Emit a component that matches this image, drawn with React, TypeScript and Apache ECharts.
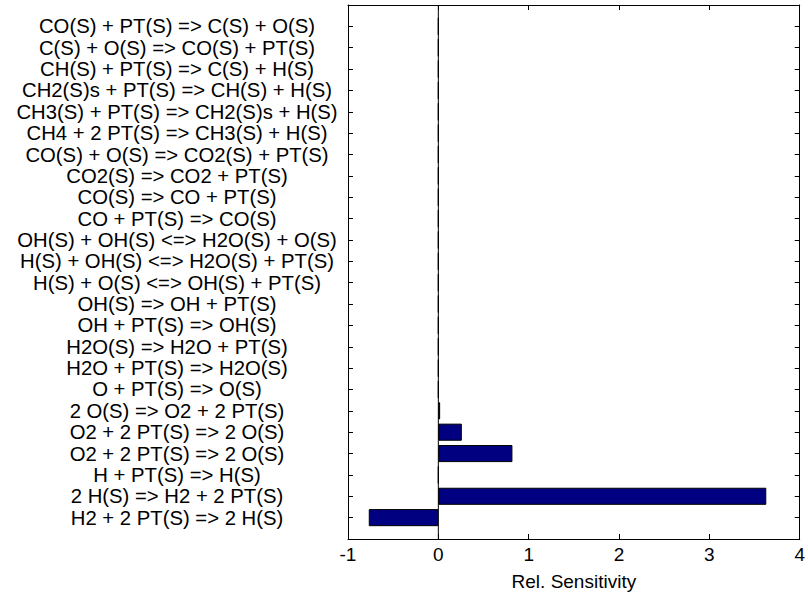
import React, { useEffect, useRef } from "react";
import * as echarts from "echarts";

// Reactions listed from top to bottom as in the chart
const reactions = [
  "CO(S) + PT(S) => C(S) + O(S)",
  "C(S) + O(S) => CO(S) + PT(S)",
  "CH(S) + PT(S) => C(S) + H(S)",
  "CH2(S)s + PT(S) => CH(S) + H(S)",
  "CH3(S) + PT(S) => CH2(S)s + H(S)",
  "CH4 + 2 PT(S) => CH3(S) + H(S)",
  "CO(S) + O(S) => CO2(S) + PT(S)",
  "CO2(S) => CO2 + PT(S)",
  "CO(S) => CO + PT(S)",
  "CO + PT(S) => CO(S)",
  "OH(S) + OH(S) <=> H2O(S) + O(S)",
  "H(S) + OH(S) <=> H2O(S) + PT(S)",
  "H(S) + O(S) <=> OH(S) + PT(S)",
  "OH(S) => OH + PT(S)",
  "OH + PT(S) => OH(S)",
  "H2O(S) => H2O + PT(S)",
  "H2O + PT(S) => H2O(S)",
  "O + PT(S) => O(S)",
  "2 O(S) => O2 + 2 PT(S)",
  "O2 + 2 PT(S) => 2 O(S)",
  "O2 + 2 PT(S) => 2 O(S)",
  "H + PT(S) => H(S)",
  "2 H(S) => H2 + 2 PT(S)",
  "H2 + 2 PT(S) => 2 H(S)",
];

// Relative sensitivities, same order as reactions (top to bottom)
const sensitivities = [
  0, 0, 0, 0, 0, 0, 0, 0, 0, 0, 0, 0, 0, 0, 0, 0, 0, 0,
  0.02, 0.26, 0.82, 0, 3.63, -0.77,
];

const xTicks = [-1, 0, 1, 2, 3, 4];
const xAxisName = "Rel. Sensitivity";
const zeroLineX = 0;

export default function App() {
  const ref = useRef<HTMLDivElement>(null);

  useEffect(() => {
    if (!ref.current) return;
    const chart = echarts.init(ref.current, null, { renderer: "svg" });

    // category axis from bottom to top, padded with empty slots at both ends
    const cats = ["", ...reactions.slice().reverse(), ""];
    const vals: (number | null)[] = [null, ...sensitivities.slice().reverse(), null];

    const font = "'Liberation Sans', Arial, sans-serif";

    chart.setOption({
      animation: false,
      backgroundColor: "#ffffff",
      grid: { left: 348, top: 5, right: 1.5, bottom: 54, containLabel: false },
      xAxis: [
        {
          type: "value",
          min: xTicks[0],
          max: xTicks[xTicks.length - 1],
          interval: 1,
          position: "bottom",
          name: xAxisName,
          nameLocation: "middle",
          nameGap: 33,
          nameTextStyle: { color: "#000", fontSize: 19, fontFamily: font },
          axisLine: { show: true, onZero: false, lineStyle: { color: "#000", width: 1 } },
          axisTick: { show: true, inside: true, length: 5, lineStyle: { color: "#000" } },
          axisLabel: {
            color: "#000",
            fontSize: 19,
            fontFamily: font,
            margin: 6,
            showMinLabel: true,
            showMaxLabel: true,
          },
          splitLine: { show: false },
        },
        {
          type: "value",
          min: xTicks[0],
          max: xTicks[xTicks.length - 1],
          interval: 1,
          position: "top",
          axisLine: { show: true, onZero: false, lineStyle: { color: "#000", width: 1 } },
          axisTick: { show: true, inside: true, length: 5, lineStyle: { color: "#000" } },
          axisLabel: { show: false },
          splitLine: { show: false },
        },
      ],
      yAxis: [
        {
          type: "category",
          data: cats,
          boundaryGap: false,
          position: "left",
          axisLine: { show: true, onZero: false, lineStyle: { color: "#000", width: 1 } },
          axisTick: { show: true, inside: true, length: 5, interval: 0, lineStyle: { color: "#000" } },
          axisLabel: {
            color: "#000",
            fontSize: 20.3,
            fontFamily: font,
            align: "center",
            margin: 171,
            interval: 0,
          },
          splitLine: { show: false },
        },
        {
          type: "category",
          data: cats,
          boundaryGap: false,
          position: "right",
          axisLine: { show: true, onZero: false, lineStyle: { color: "#000", width: 1 } },
          axisTick: { show: true, inside: true, length: 5, interval: 0, lineStyle: { color: "#000" } },
          axisLabel: { show: false },
          splitLine: { show: false },
        },
      ],
      series: [
        {
          type: "line",
          xAxisIndex: 0,
          yAxisIndex: 0,
          data: [
            [zeroLineX, 0],
            [zeroLineX, cats.length - 1],
          ],
          showSymbol: false,
          symbol: "none",
          silent: true,
          lineStyle: { color: "#000", width: 1 },
          z: 3,
        },
        {
          type: "bar",
          xAxisIndex: 0,
          yAxisIndex: 0,
          data: vals,
          barWidth: "80%",
          itemStyle: { color: "#000080", borderColor: "#000", borderWidth: 1 },
          z: 2,
        },
      ],
    });

    return () => chart.dispose();
  }, []);

  return <div ref={ref} style={{ width: 808, height: 596, position: "absolute", left: 0, top: 0 }} />;
}
